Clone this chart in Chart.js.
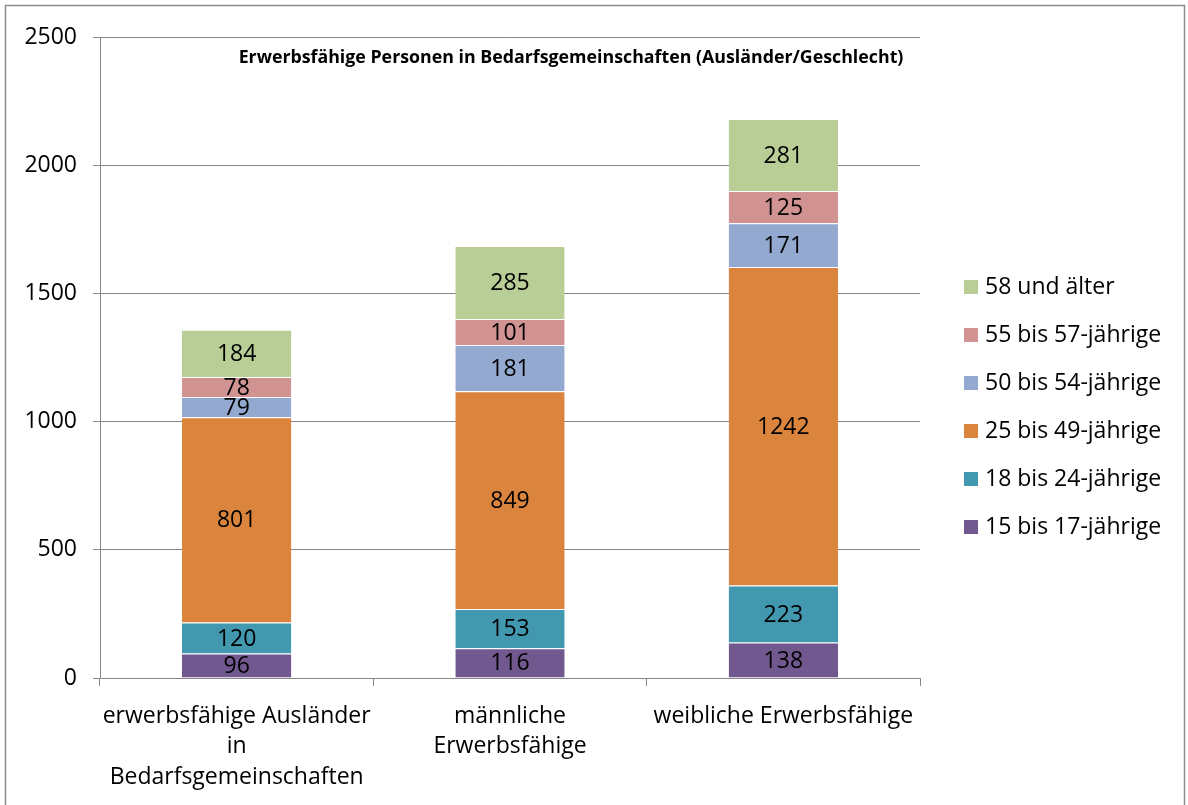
<!DOCTYPE html>
<html>
<head>
<meta charset="utf-8">
<script src="https://cdn.jsdelivr.net/npm/chart.js@4"></script>
<style>
  html, body { margin: 0; padding: 0; background: #fff; }
  #wrap { width: 1188px; height: 805px; }
</style>
</head>
<body>
<div id="wrap"><canvas id="chart" width="1188" height="805"></canvas></div>
<script>
// --------------------
// Data
// --------------------
const categories = [
  ["erwerbsfähige Ausländer", "in", "Bedarfsgemeinschaften"],
  ["männliche", "Erwerbsfähige"],
  ["weibliche Erwerbsfähige"]
];
const seriesNames = ["15 bis 17-jährige", "18 bis 24-jährige", "25 bis 49-jährige",
  "50 bis 54-jährige", "55 bis 57-jährige", "58 und älter"];
const age15to17 = [96, 116, 138];
const age18to24 = [120, 153, 223];
const age25to49 = [801, 849, 1242];
const age50to54 = [79, 181, 171];
const age55to57 = [78, 101, 125];
const age58plus = [184, 285, 281];
const yTicks = [0, 500, 1000, 1500, 2000, 2500];
const chartTitle = "Erwerbsfähige Personen in Bedarfsgemeinschaften (Ausländer/Geschlecht)";

const colors = ["#71588F", "#4198AF", "#DB843D", "#93A9CF", "#D19392", "#B9CD96"];
const seriesValues = [age15to17, age18to24, age25to49, age50to54, age55to57, age58plus];
const FONT = "'Open Sans', sans-serif";
const gridColor = "#868686";

// --------------------
// Plugins
// --------------------
const framePlugin = {
  id: "frame",
  beforeDraw(chart) {
    const ctx = chart.ctx;
    ctx.save();
    ctx.fillStyle = "#fff";
    ctx.fillRect(0, 0, chart.width, chart.height);
    ctx.strokeStyle = "#8c8c8c";
    ctx.lineWidth = 1.5;
    ctx.strokeRect(5.5, 5.5, chart.width - 9, chart.height + 10);
    ctx.restore();
  }
};

// value in the middle of every segment
const segmentLabels = {
  id: "segmentLabels",
  afterDatasetsDraw(chart) {
    const ctx = chart.ctx;
    ctx.save();
    ctx.font = "23px " + FONT;
    ctx.fillStyle = "#000";
    ctx.textAlign = "center";
    ctx.textBaseline = "middle";
    chart.data.datasets.forEach((ds, i) => {
      chart.getDatasetMeta(i).data.forEach((bar, j) => {
        const p = bar.getProps(["x", "y", "base"], true);
        ctx.fillText(String(ds.data[j]), p.x, (p.y + p.base) / 2 + 1);
      });
    });
    ctx.restore();
  }
};

const plotTitle = {
  id: "plotTitle",
  afterDraw(chart) {
    const ctx = chart.ctx;
    const a = chart.chartArea;
    ctx.save();
    ctx.font = "bold 17.8px " + FONT;
    ctx.fillStyle = "#000";
    ctx.textAlign = "center";
    ctx.textBaseline = "middle";
    ctx.fillText(chartTitle, a.left + 471, a.top + 21);
    ctx.restore();
  }
};

const sideLegend = {
  id: "sideLegend",
  afterDraw(chart) {
    const ctx = chart.ctx;
    const a = chart.chartArea;
    const ds = chart.data.datasets;
    ctx.save();
    ctx.font = "23px " + FONT;
    ctx.textBaseline = "middle";
    ctx.textAlign = "left";
    for (let k = 0; k < ds.length; k++) {
      const d = ds[ds.length - 1 - k];
      const y = 287 + k * 48;
      ctx.fillStyle = d.backgroundColor;
      ctx.fillRect(a.right + 44, y - 7, 14, 14);
      ctx.fillStyle = "#000";
      ctx.fillText(d.label, a.right + 65, y);
    }
    ctx.restore();
  }
};

// --------------------
// Chart
// --------------------
new Chart(document.getElementById("chart"), {
  type: "bar",
  data: {
    labels: categories,
    datasets: seriesNames.map((name, i) => ({
      label: name,
      data: seriesValues[i],
      backgroundColor: colors[i],
      borderColor: "rgba(255,255,255,0.6)",
      borderWidth: { top: 1, bottom: 0, left: 0, right: 0 },
      borderSkipped: false,
      barPercentage: 0.4,
      categoryPercentage: 1
    }))
  },
  options: {
    responsive: false,
    animation: false,
    devicePixelRatio: 1,
    layout: { padding: { top: 37, right: 268, left: 0, bottom: 0 } },
    plugins: {
      legend: { display: false },
      title: { display: false },
      tooltip: { enabled: false }
    },
    scales: {
      x: {
        stacked: true,
        afterFit(scale) { scale.height = 127; },
        grid: {
          offset: true,
          drawOnChartArea: false,
          color: gridColor,
          tickLength: 8
        },
        border: { color: gridColor },
        ticks: {
          color: "#000",
          font: { family: FONT, size: 23, lineHeight: 1.33 },
          padding: 15,
          maxRotation: 0,
          autoSkip: false
        }
      },
      y: {
        stacked: true,
        min: 0,
        max: 2500,
        afterFit(scale) { scale.width = 100; },
        afterBuildTicks(scale) { scale.ticks = yTicks.map(v => ({ value: v })); },
        grid: { color: gridColor, tickLength: 7 },
        border: { color: gridColor },
        ticks: {
          color: "#000",
          font: { family: FONT, size: 23 },
          padding: 16,
          callback: v => String(v)
        }
      }
    }
  },
  plugins: [framePlugin, segmentLabels, plotTitle, sideLegend]
});
</script>
</body>
</html>
